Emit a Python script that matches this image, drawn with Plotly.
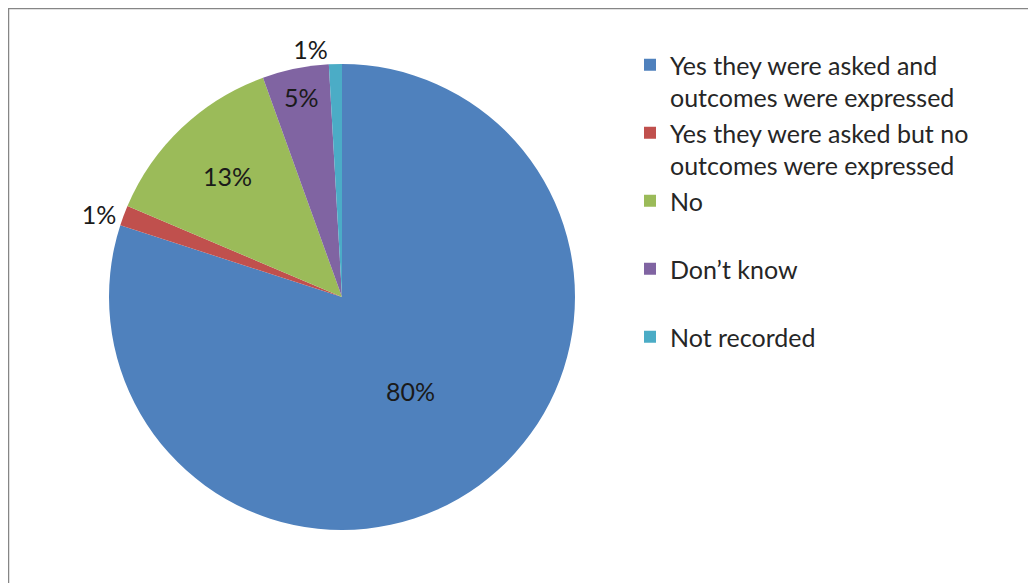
import plotly.graph_objects as go

labels = [
    "Yes they were asked and<br>outcomes were expressed",
    "Yes they were asked but no<br>outcomes were expressed",
    "No<br> ",
    "Don\u2019t know<br> ",
    "Not recorded",
]
values = [79.9, 1.4, 13.1, 4.6, 0.9]
colors = ["#4F81BD", "#C0504D", "#9BBB59", "#8064A2", "#4BACC6"]
text_pos = ["inside", "outside", "inside", "inside", "outside"]

# page has an 8px body margin, so the figure is 8px smaller than the window
W, H = 1028, 575
cx, cy, r = 334, 289, 233

fig = go.Figure(go.Pie(
    labels=labels,
    values=values,
    sort=False,
    direction="clockwise",
    rotation=0,
    marker=dict(colors=colors, line=dict(width=0)),
    texttemplate="%{percent:.0%}",
    textposition=text_pos,
    insidetextorientation="horizontal",
    textfont=dict(family="Lato", size=25, color="#1a1a1a"),
    hoverinfo="label+percent",
    domain=dict(x=[(cx - r) / W, (cx + r) / W], y=[(H - cy - r) / H, (H - cy + r) / H]),
))

fig.update_layout(
    width=W, height=H,
    margin=dict(l=0, r=0, t=0, b=0),
    paper_bgcolor="white",
    showlegend=True,
    legend=dict(
        x=622 / W, y=1 - 34 / H, xanchor="left", yanchor="top",
        font=dict(family="Lato", size=25, color="#262626"),
        valign="top",
        bgcolor="rgba(0,0,0,0)",
    ),
    shapes=[dict(
        type="rect", xref="paper", yref="paper",
        x0=0, x1=1.05, y0=-0.05, y1=1,
        line=dict(color="#868686", width=2.5),
    )],
)

fig.write_html("out.html")
